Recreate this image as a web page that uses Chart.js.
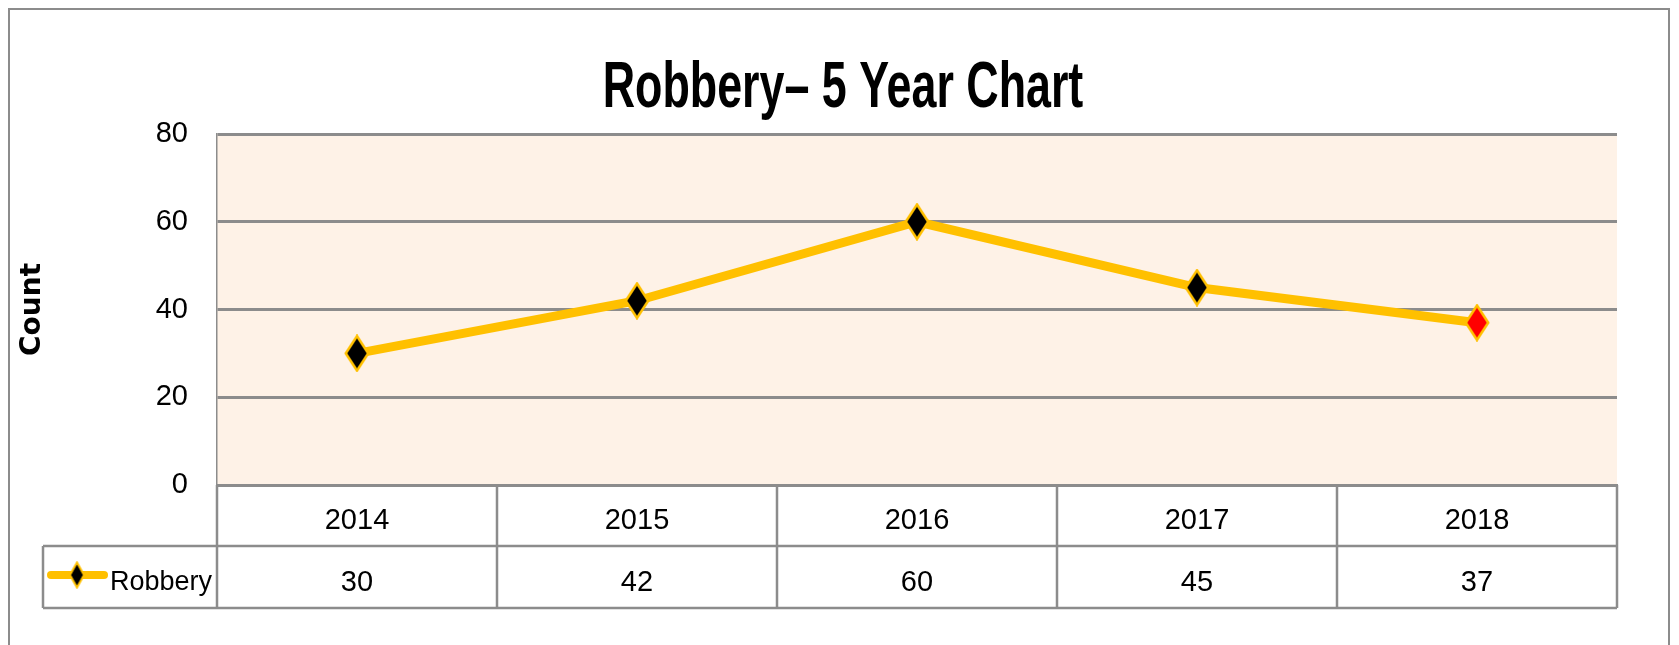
<!DOCTYPE html>
<html>
<head>
<meta charset="utf-8">
<script src="https://cdn.jsdelivr.net/npm/chart.js@4"></script>
<style>
  body { margin: 0; background: #fff; }
  canvas { display: block; }
</style>
</head>
<body>
<canvas id="robbery" width="1679" height="645"></canvas>
<script>
// Werte aus dem Diagramm
const years = ['2014', '2015', '2016', '2017', '2018'];
const robbery = [30, 42, 60, 45, 37];
const yTicks = [0, 20, 40, 60, 80];
const chartTitle = 'Robbery– 5 Year Chart';

const YELLOW = '#FFC000';
const GRID = '#8c8c8c';
const SANS = '"Liberation Sans", Arial, sans-serif';

// länglicher Diamant als Punktstil
function diamond(fill, w, h, lw) {
  const c = document.createElement('canvas');
  c.width = w; c.height = h;
  const g = c.getContext('2d');
  const p = lw / 2 + 0.5;
  g.beginPath();
  g.moveTo(w / 2, p);
  g.lineTo(w - p, h / 2);
  g.lineTo(w / 2, h - p);
  g.lineTo(p, h / 2);
  g.closePath();
  g.fillStyle = fill;
  g.fill();
  g.lineWidth = lw;
  g.strokeStyle = YELLOW;
  g.stroke();
  return c;
}
const blackDia = diamond('#000', 26, 38, 2.5);
const redDia = diamond('#ff0000', 26, 38, 2.5);
const keyDia = diamond('#000', 17, 28, 2);

// Rahmen, Hintergrund der Zeichenfläche, schmaler Titel
const backdrop = {
  id: 'backdrop',
  beforeDraw(chart) {
    const { ctx, chartArea: a } = chart;
    ctx.save();
    ctx.strokeStyle = GRID;
    ctx.lineWidth = 2;
    ctx.strokeRect(9, 9, 1660, 660);
    ctx.fillStyle = '#fef2e7';
    ctx.fillRect(a.left, a.top, a.right - a.left, a.bottom - a.top);

    // Titel schmal gestaucht (wie Calibri im Original)
    ctx.translate(843, 107);
    ctx.scale(0.7, 1);
    ctx.fillStyle = '#000';
    ctx.font = 'bold 64px ' + SANS;
    ctx.textAlign = 'center';
    ctx.textBaseline = 'alphabetic';
    ctx.fillText(chartTitle, 0, 0);
    ctx.restore();
  }
};

// Datentabelle unter der Achse
const dataTable = {
  id: 'dataTable',
  afterDraw(chart) {
    const { ctx, chartArea: a, scales: { x } } = chart;
    const r1 = a.bottom, r2 = a.bottom + 61, r3 = a.bottom + 123;
    const left = 43;
    const half = (x.getPixelForValue(1) - x.getPixelForValue(0)) / 2;
    ctx.save();
    ctx.strokeStyle = GRID;
    ctx.lineWidth = 2.5;
    ctx.beginPath();
    ctx.moveTo(left, r2); ctx.lineTo(a.right, r2);
    ctx.moveTo(left, r3); ctx.lineTo(a.right, r3);
    ctx.moveTo(left, r2); ctx.lineTo(left, r3);
    years.forEach((y, i) => {
      const e = x.getPixelForValue(i) - half;
      ctx.moveTo(e, r1); ctx.lineTo(e, r3);
    });
    ctx.moveTo(a.right, r1); ctx.lineTo(a.right, r3);
    ctx.stroke();

    ctx.fillStyle = '#000';
    ctx.font = '29px ' + SANS;
    ctx.textAlign = 'center';
    ctx.textBaseline = 'middle';
    robbery.forEach((v, i) => {
      ctx.fillText(String(v), x.getPixelForValue(i), r2 + 37);
    });

    // Legendenschlüssel
    const ky = r2 + 29;
    ctx.strokeStyle = YELLOW;
    ctx.lineWidth = 8;
    ctx.lineCap = 'round';
    ctx.beginPath();
    ctx.moveTo(51, ky); ctx.lineTo(104, ky);
    ctx.stroke();
    ctx.drawImage(keyDia, 77 - keyDia.width / 2, ky - keyDia.height / 2);
    ctx.font = '27px ' + SANS;
    ctx.textAlign = 'left';
    ctx.fillText(chart.data.datasets[0].label, 110, r2 + 37);
    ctx.restore();
  }
};

new Chart(document.getElementById('robbery'), {
  type: 'line',
  data: {
    labels: years,
    datasets: [{
      label: 'Robbery',
      data: robbery,
      borderColor: YELLOW,
      borderWidth: 9,
      tension: 0,
      pointStyle: ctx => ctx.dataIndex === robbery.length - 1 ? redDia : blackDia,
      pointRadius: 13,
      pointHoverRadius: 13
    }]
  },
  options: {
    responsive: false,
    devicePixelRatio: 1,
    animation: false,
    layout: { padding: { left: 0, right: 62, top: 134, bottom: 0 } },
    scales: {
      x: {
        offset: true,
        grid: { display: false, drawTicks: false },
        border: { display: true, color: GRID, width: 3 },
        ticks: {
          color: '#000',
          padding: 19,
          font: { family: SANS, size: 29, lineHeight: 1.2 }
        },
        afterFit: s => { s.height = 160; }
      },
      y: {
        min: yTicks[0],
        max: yTicks[yTicks.length - 1],
        afterBuildTicks: s => { s.ticks = yTicks.map(v => ({ value: v })); },
        grid: { color: GRID, lineWidth: 3, drawTicks: false },
        border: { display: true, color: GRID, width: 1.5 },
        ticks: {
          color: '#000',
          padding: 29,
          font: { family: SANS, size: 29 }
        },
        title: {
          display: true,
          text: 'Count',
          color: '#000',
          padding: { top: 16, bottom: 0 },
          font: { family: '"DejaVu Sans", Verdana, sans-serif', weight: 'bold', size: 28, lineHeight: 1.2 }
        },
        afterFit: s => { s.width = 217; }
      }
    },
    plugins: {
      legend: { display: false },
      tooltip: { enabled: false },
      title: { display: false }
    }
  },
  plugins: [backdrop, dataTable]
});
</script>
</body>
</html>
